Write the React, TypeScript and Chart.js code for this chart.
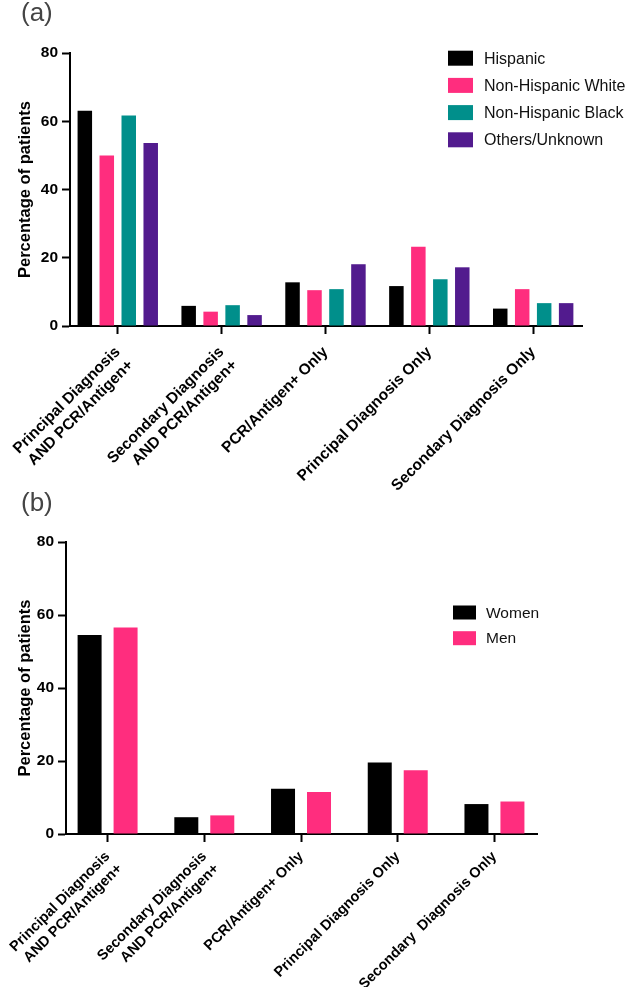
import React, { useEffect, useRef } from 'react';
import { Chart, registerables } from 'chart.js';

Chart.register(...registerables);

const FONT = '"Liberation Sans", Arial, Helvetica, sans-serif';

// ---------- Data ----------
const categoriesA: (string | string[])[] = [
  ['Principal Diagnosis', 'AND PCR/Antigen+'],
  ['Secondary Diagnosis', 'AND PCR/Antigen+'],
  'PCR/Antigen+ Only',
  'Principal Diagnosis Only',
  'Secondary Diagnosis Only',
];
const categoriesB: (string | string[])[] = [
  ['Principal Diagnosis', 'AND PCR/Antigen+'],
  ['Secondary Diagnosis', 'AND PCR/Antigen+'],
  'PCR/Antigen+ Only',
  'Principal Diagnosis Only',
  'Secondary  Diagnosis Only',
];

const hispanic = [63.1, 5.9, 12.8, 11.7, 5.1];
const nonHispanicWhite = [50.0, 4.2, 10.5, 23.2, 10.8];
const nonHispanicBlack = [61.7, 6.1, 10.8, 13.7, 6.7];
const othersUnknown = [53.6, 3.2, 18.1, 17.2, 6.7];

const women = [54.5, 4.6, 12.4, 19.6, 8.2];
const men = [56.6, 5.1, 11.5, 17.5, 8.9];

const yTickValues = [0, 20, 40, 60, 80];
const yAxisTitle = 'Percentage of patients';

const BLACK = '#000000';
const PINK = '#FF2D7E';
const TEAL = '#008F8B';
const PURPLE = '#521B8E';

type Panel = {
  label: string;
  categories: (string | string[])[];
  series: { name: string; values: number[]; color: string }[];
  height: number;
  padTop: number;
  padRight: number;
  yWidth: number;
  xHeight: number;
  xMin: number;
  xMax: number;
  catPct: number;
  barPct: number;
  xFont: number;
  xPad: number;
  legend: { x: number; y: number; boxW: number; boxH: number; gap: number; textX: number; font: number };
};

const panelA: Panel = {
  label: '(a)',
  categories: categoriesA,
  series: [
    { name: 'Hispanic', values: hispanic, color: BLACK },
    { name: 'Non-Hispanic White', values: nonHispanicWhite, color: PINK },
    { name: 'Non-Hispanic Black', values: nonHispanicBlack, color: TEAL },
    { name: 'Others/Unknown', values: othersUnknown, color: PURPLE },
  ],
  height: 490,
  padTop: 53,
  padRight: 48,
  yWidth: 70,
  xHeight: 164,
  xMin: -0.46,
  xMax: 4.47,
  catPct: 0.846,
  barPct: 0.66,
  xFont: 15.5,
  xPad: 9,
  legend: { x: 448, y: 58.2, boxW: 25, boxH: 15, gap: 27.2, textX: 484, font: 16 },
};

const panelB: Panel = {
  label: '(b)',
  categories: categoriesB,
  series: [
    { name: 'Women', values: women, color: BLACK },
    { name: 'Men', values: men, color: PINK },
  ],
  height: 497,
  padTop: 52,
  padRight: 93,
  yWidth: 66,
  xHeight: 153,
  xMin: -0.43,
  xMax: 4.44,
  catPct: 0.744,
  barPct: 0.667,
  xFont: 14.5,
  xPad: 6,
  legend: { x: 453, y: 122.5, boxW: 23, boxH: 14, gap: 25.7, textX: 486, font: 15.5 },
};

function makeConfig(p: Panel): any {
  const legendPlugin = {
    id: 'customLegend' + p.label,
    afterDraw(chart: any) {
      const ctx = chart.ctx;
      const L = p.legend;
      ctx.save();
      chart.data.datasets.forEach((ds: any, i: number) => {
        const cy = L.y + i * L.gap;
        ctx.fillStyle = ds.backgroundColor;
        ctx.fillRect(L.x, cy - L.boxH / 2, L.boxW, L.boxH);
        ctx.fillStyle = '#111111';
        ctx.font = `${L.font}px ${FONT}`;
        ctx.textAlign = 'left';
        ctx.textBaseline = 'middle';
        ctx.fillText(ds.label, L.textX, cy + 1);
      });
      ctx.fillStyle = '#444444';
      ctx.font = `26px ${FONT}`;
      ctx.textAlign = 'left';
      ctx.textBaseline = 'alphabetic';
      ctx.fillText(p.label, 21, 21);
      ctx.restore();
    },
  };

  return {
    type: 'bar',
    data: {
      datasets: p.series.map((s) => ({
        label: s.name,
        data: s.values.map((v, i) => ({ x: i, y: v })),
        backgroundColor: s.color,
        borderWidth: 0,
        categoryPercentage: p.catPct,
        barPercentage: p.barPct,
      })),
    },
    options: {
      responsive: false,
      animation: false,
      devicePixelRatio: 1,
      layout: { padding: { top: p.padTop, right: p.padRight, bottom: 0, left: 0 } },
      plugins: {
        legend: { display: false },
        tooltip: { enabled: false },
        title: { display: false },
      },
      scales: {
        x: {
          type: 'linear',
          min: p.xMin,
          max: p.xMax,
          offset: false,
          grid: {
            display: true,
            offset: false,
            drawOnChartArea: false,
            drawTicks: true,
            tickLength: 8,
            tickWidth: 2,
            tickColor: '#000',
          },
          border: { display: true, color: '#000', width: 2 },
          afterBuildTicks(scale: any) {
            scale.ticks = p.categories.map((_, i) => ({ value: i }));
          },
          afterFit(scale: any) {
            scale.height = p.xHeight;
            scale.paddingLeft = 0;
            scale.paddingRight = 0;
          },
          ticks: {
            autoSkip: false,
            minRotation: 45,
            maxRotation: 45,
            padding: p.xPad,
            color: '#000',
            font: { family: FONT, size: p.xFont, weight: 'bold' },
            callback: (value: number) => p.categories[Math.round(value)] ?? '',
          },
        },
        y: {
          type: 'linear',
          min: 0,
          max: 80,
          grid: {
            display: true,
            drawOnChartArea: false,
            drawTicks: true,
            tickLength: 8,
            tickWidth: 2,
            tickColor: '#000',
          },
          border: { display: true, color: '#000', width: 2 },
          afterBuildTicks(scale: any) {
            scale.ticks = yTickValues.map((v) => ({ value: v }));
          },
          afterFit(scale: any) {
            scale.width = p.yWidth;
          },
          ticks: {
            padding: 4,
            color: '#000',
            font: { family: FONT, size: 15.5, weight: 'bold' },
          },
          title: {
            display: true,
            text: yAxisTitle,
            color: '#000',
            padding: { top: 16, bottom: 0 },
            font: { family: FONT, size: 16.5, weight: 'bold' },
          },
        },
      },
    },
    plugins: [legendPlugin],
  };
}

function ChartPanel({ panel, top }: { panel: Panel; top: number }) {
  const ref = useRef<HTMLCanvasElement | null>(null);
  useEffect(() => {
    if (!ref.current) return;
    const chart = new Chart(ref.current, makeConfig(panel));
    return () => chart.destroy();
  }, [panel]);
  return (
    <canvas
      ref={ref}
      width={630}
      height={panel.height}
      style={{ position: 'absolute', left: 0, top, width: 630, height: panel.height, display: 'block' }}
    />
  );
}

export default function App() {
  return (
    <div style={{ position: 'absolute', left: 0, top: 0, width: 630, height: 987, background: '#fff', overflow: 'hidden' }}>
      <ChartPanel panel={panelA} top={0} />
      <ChartPanel panel={panelB} top={490} />
    </div>
  );
}
